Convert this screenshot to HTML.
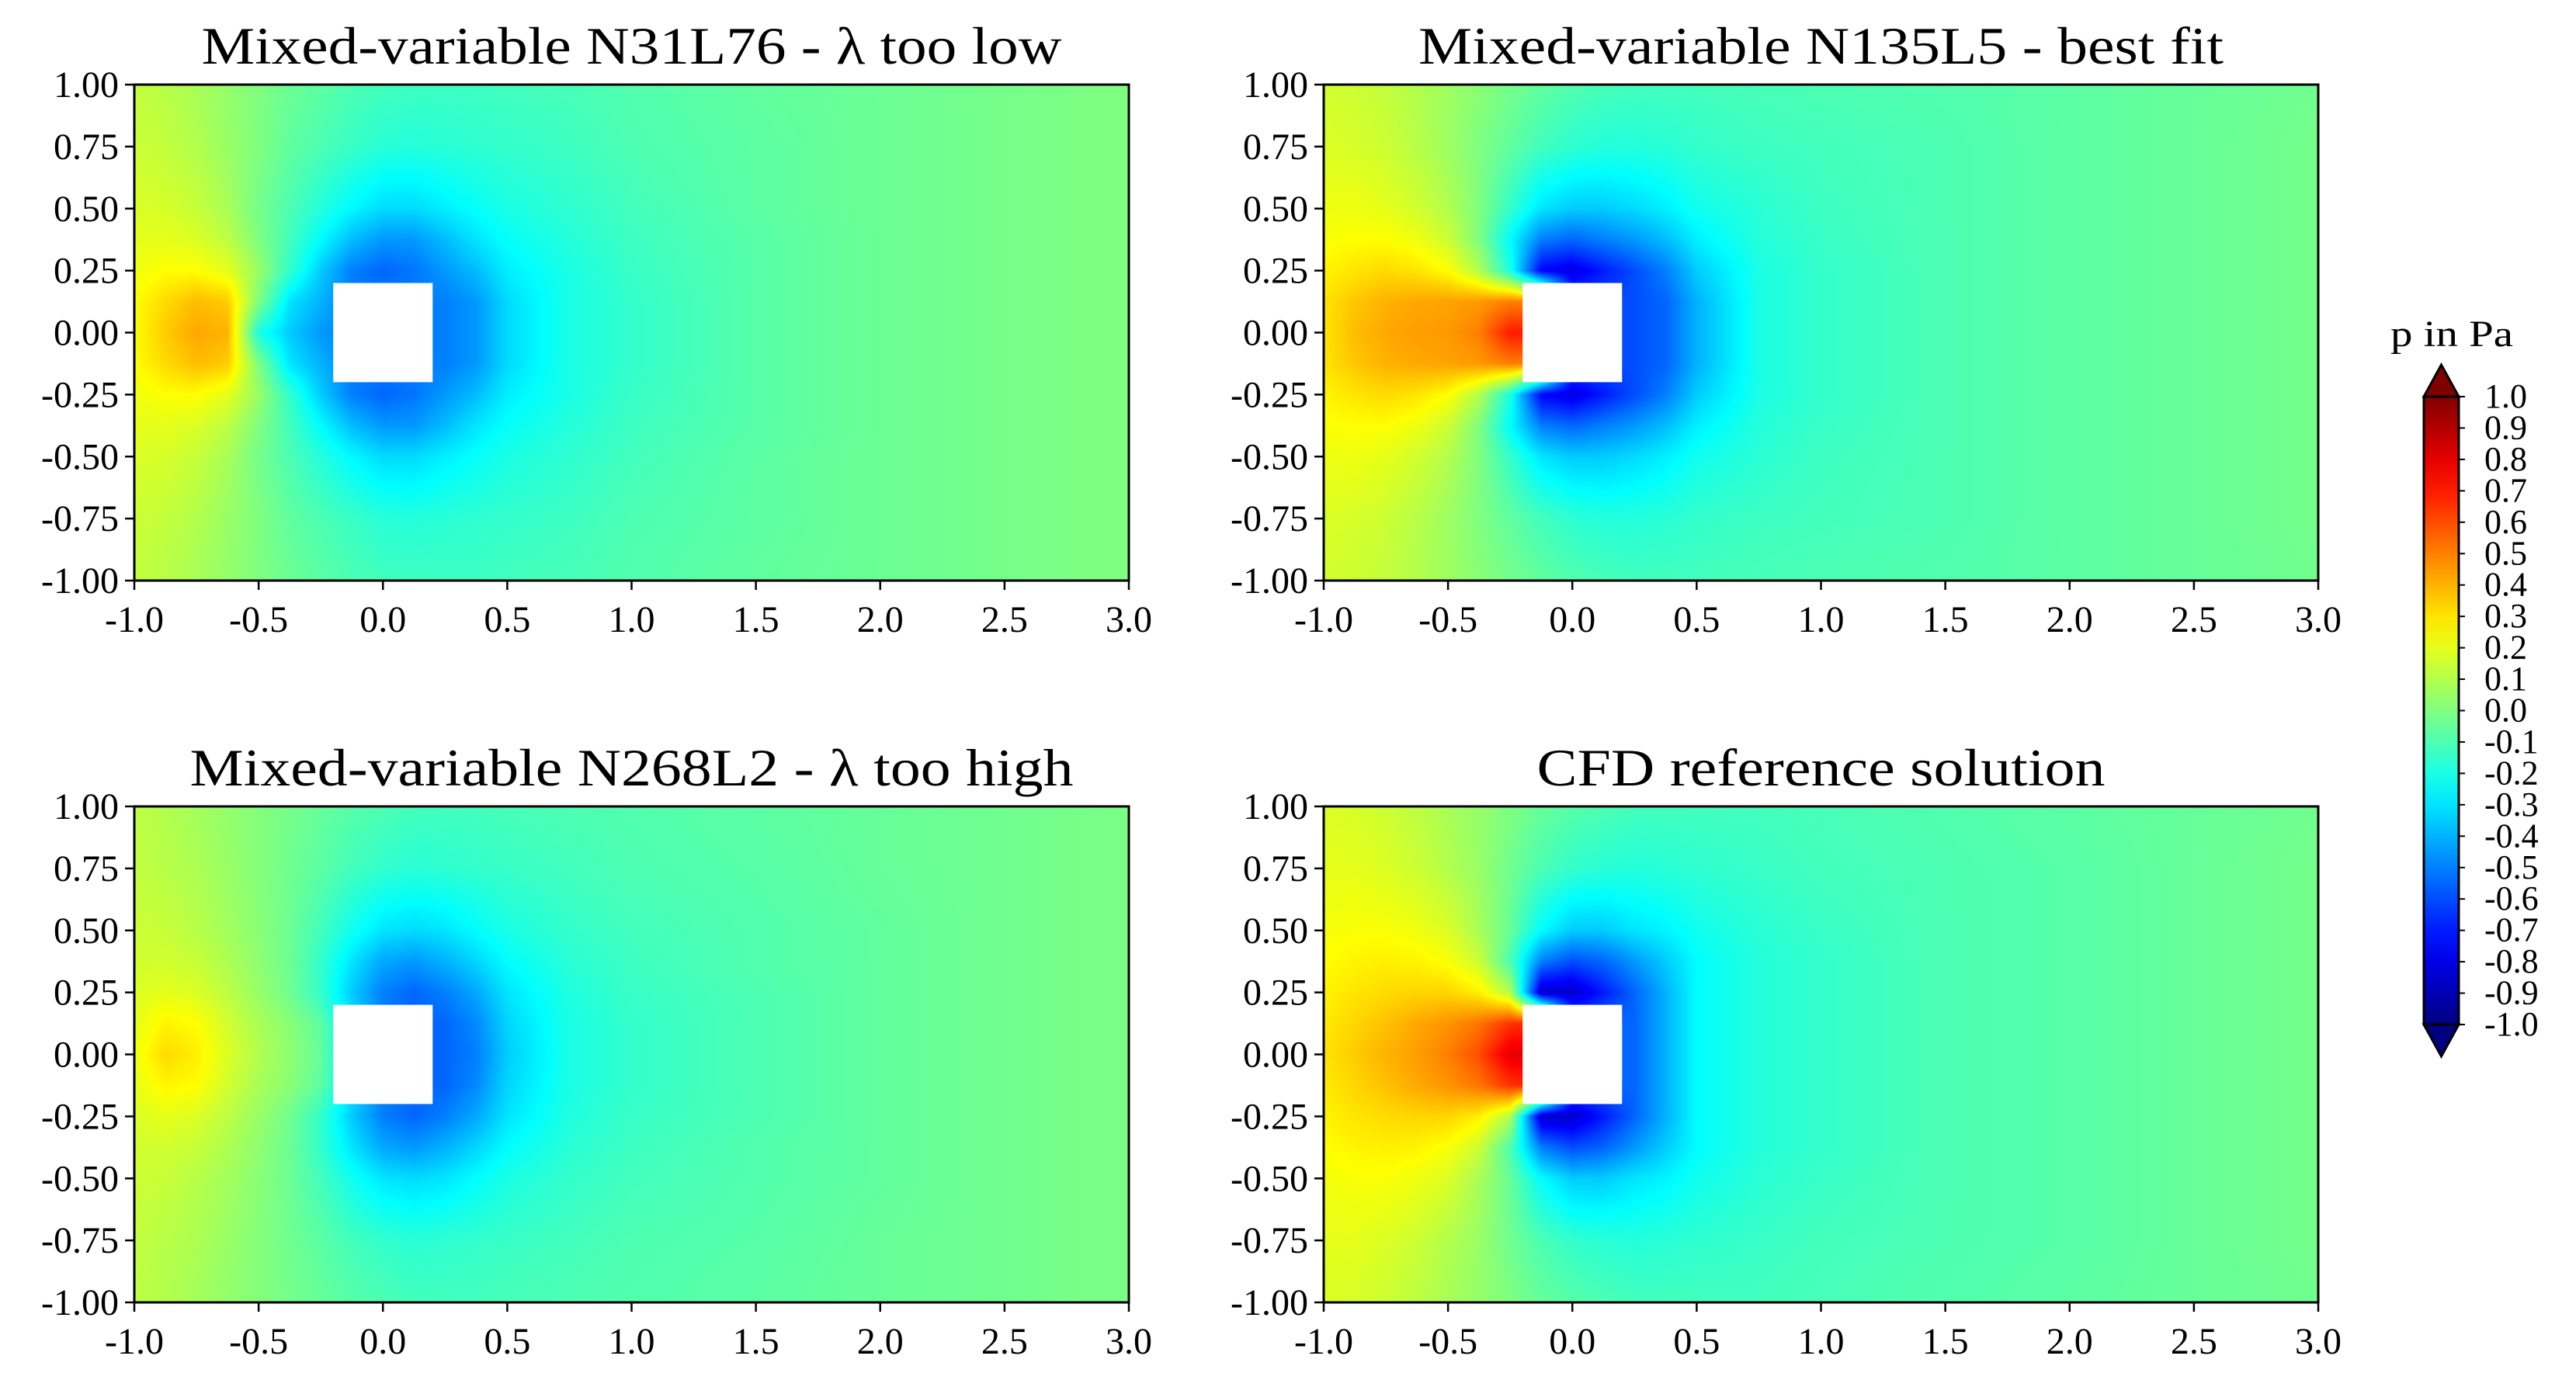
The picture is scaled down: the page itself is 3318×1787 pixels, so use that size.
<!DOCTYPE html>
<html><head><meta charset="utf-8"><style>
html,body{margin:0;padding:0;background:#fff;}
#root{position:relative;width:3318px;height:1787px;overflow:hidden;background:#fff;}
canvas{position:absolute;}
svg{position:absolute;left:0;top:0;}
text{font-family:"Liberation Serif",serif;fill:#000;}
</style></head><body>
<div id="root">
<canvas id="c0" width="1281" height="639" style="left:173px;top:109px"></canvas>
<canvas id="c1" width="1281" height="639" style="left:1705px;top:109px"></canvas>
<canvas id="c2" width="1281" height="639" style="left:173px;top:1039px"></canvas>
<canvas id="c3" width="1281" height="639" style="left:1705px;top:1039px"></canvas>
<svg id="ov" width="3318" height="1787"></svg>
</div>
<script>
const xCoords=[-1,-0.875,-0.75,-0.625,-0.5,-0.375,-0.25,-0.125,0,0.125,0.25,0.375,0.5,0.75,1,1.5,2,2.5,3];
const yCoordsHalf=[0,0.125,0.25,0.375,0.5,0.75,1];
const xTicks=["-1.0","-0.5","0.0","0.5","1.0","1.5","2.0","2.5","3.0"];
const xTickVals=[-1,-0.5,0,0.5,1,1.5,2,2.5,3];
const yTicks=["1.00","0.75","0.50","0.25","0.00","-0.25","-0.50","-0.75","-1.00"];
const yTickVals=[1,0.75,0.5,0.25,0,-0.25,-0.5,-0.75,-1];
const cbTicks=["1.0","0.9","0.8","0.7","0.6","0.5","0.4","0.3","0.2","0.1","0.0","-0.1","-0.2","-0.3","-0.4","-0.5","-0.6","-0.7","-0.8","-0.9","-1.0"];
const cbTickVals=[1,0.9,0.8,0.7,0.6,0.5,0.4,0.3,0.2,0.1,0,-0.1,-0.2,-0.3,-0.4,-0.5,-0.6,-0.7,-0.8,-0.9,-1];
const titles=["Mixed-variable N31L76 - λ too low","Mixed-variable N135L5 - best fit","Mixed-variable N268L2 - λ too high","CFD reference solution"];
const titleWidths=[1108,1037,1138,732];
const fieldLow=[
[0.25,0.35,0.42,0.4,-0.2,-0.35,-0.45,-0.5,-0.5,-0.5,-0.5,-0.45,-0.32,-0.2,-0.15,-0.08,-0.04,-0.02,0],
[0.25,0.32,0.38,0.35,0.0,-0.3,-0.4,-0.5,-0.5,-0.5,-0.5,-0.45,-0.32,-0.2,-0.15,-0.08,-0.04,-0.02,0],
[0.22,0.25,0.25,0.2,0.05,-0.15,-0.35,-0.5,-0.55,-0.52,-0.45,-0.38,-0.28,-0.2,-0.14,-0.08,-0.04,-0.02,0],
[0.2,0.2,0.18,0.12,0.0,-0.12,-0.25,-0.38,-0.45,-0.45,-0.38,-0.3,-0.24,-0.18,-0.13,-0.08,-0.04,-0.02,0],
[0.18,0.17,0.14,0.08,-0.02,-0.1,-0.18,-0.26,-0.32,-0.32,-0.28,-0.24,-0.2,-0.16,-0.12,-0.07,-0.04,-0.02,0],
[0.15,0.13,0.1,0.05,0,-0.06,-0.1,-0.14,-0.17,-0.18,-0.17,-0.16,-0.15,-0.13,-0.1,-0.07,-0.04,-0.02,0],
[0.13,0.11,0.08,0.04,0,-0.04,-0.07,-0.1,-0.12,-0.13,-0.13,-0.13,-0.12,-0.11,-0.09,-0.06,-0.04,-0.02,0]];
const fieldBest=[
[0.3,0.38,0.42,0.44,0.45,0.5,0.7,0.7,-0.6,-0.6,-0.6,-0.55,-0.4,-0.2,-0.15,-0.1,-0.07,-0.05,-0.02],
[0.3,0.36,0.4,0.42,0.43,0.45,0.5,0.5,-0.6,-0.6,-0.6,-0.55,-0.4,-0.2,-0.15,-0.1,-0.07,-0.05,-0.02],
[0.27,0.3,0.32,0.3,0.25,0.1,-0.2,-0.75,-0.8,-0.7,-0.6,-0.5,-0.35,-0.2,-0.15,-0.1,-0.07,-0.05,-0.02],
[0.24,0.25,0.25,0.22,0.15,0.0,-0.25,-0.5,-0.55,-0.5,-0.45,-0.38,-0.28,-0.18,-0.14,-0.1,-0.07,-0.05,-0.02],
[0.22,0.22,0.2,0.16,0.1,0,-0.15,-0.3,-0.35,-0.35,-0.32,-0.28,-0.22,-0.17,-0.13,-0.1,-0.07,-0.05,-0.02],
[0.18,0.17,0.15,0.11,0.06,0.0,-0.06,-0.12,-0.16,-0.18,-0.18,-0.17,-0.15,-0.13,-0.12,-0.1,-0.07,-0.05,-0.02],
[0.16,0.15,0.13,0.1,0.06,0.02,-0.02,-0.06,-0.09,-0.11,-0.12,-0.12,-0.12,-0.11,-0.1,-0.09,-0.07,-0.05,-0.03]];
const fieldHigh=[
[0.22,0.32,0.28,0.18,0.1,0.03,-0.05,-0.3,-0.5,-0.55,-0.55,-0.5,-0.35,-0.2,-0.15,-0.1,-0.06,-0.03,-0.01],
[0.2,0.27,0.25,0.16,0.08,0.02,-0.07,-0.3,-0.5,-0.55,-0.55,-0.48,-0.33,-0.2,-0.15,-0.1,-0.06,-0.03,-0.01],
[0.18,0.2,0.18,0.12,0.05,-0.03,-0.15,-0.35,-0.5,-0.55,-0.5,-0.42,-0.3,-0.19,-0.14,-0.1,-0.06,-0.03,-0.01],
[0.16,0.16,0.14,0.09,0.03,-0.04,-0.15,-0.3,-0.42,-0.45,-0.4,-0.33,-0.25,-0.17,-0.13,-0.09,-0.06,-0.03,-0.01],
[0.15,0.14,0.11,0.07,0.02,-0.04,-0.12,-0.22,-0.3,-0.32,-0.3,-0.25,-0.2,-0.15,-0.12,-0.09,-0.06,-0.03,-0.01],
[0.13,0.11,0.09,0.05,0.01,-0.03,-0.07,-0.12,-0.15,-0.17,-0.16,-0.15,-0.14,-0.12,-0.1,-0.08,-0.05,-0.03,-0.01],
[0.12,0.1,0.07,0.04,0.01,-0.02,-0.05,-0.08,-0.1,-0.12,-0.12,-0.12,-0.11,-0.1,-0.09,-0.07,-0.05,-0.03,-0.01]];
const fieldCFD=[
[0.3,0.35,0.4,0.44,0.5,0.6,0.8,0.8,-0.55,-0.55,-0.55,-0.4,-0.25,-0.18,-0.15,-0.1,-0.08,-0.05,-0.02],
[0.29,0.33,0.37,0.42,0.46,0.52,0.65,0.7,-0.55,-0.55,-0.55,-0.4,-0.25,-0.18,-0.15,-0.1,-0.08,-0.05,-0.02],
[0.27,0.3,0.32,0.33,0.33,0.28,0.1,-0.85,-0.85,-0.7,-0.55,-0.4,-0.25,-0.18,-0.15,-0.1,-0.08,-0.05,-0.02],
[0.25,0.27,0.28,0.27,0.24,0.15,-0.1,-0.5,-0.6,-0.55,-0.45,-0.35,-0.25,-0.18,-0.15,-0.1,-0.08,-0.05,-0.02],
[0.23,0.24,0.24,0.22,0.18,0.08,-0.05,-0.25,-0.35,-0.35,-0.3,-0.27,-0.22,-0.17,-0.14,-0.1,-0.08,-0.05,-0.02],
[0.2,0.2,0.18,0.15,0.1,0.05,-0.03,-0.1,-0.15,-0.17,-0.18,-0.17,-0.16,-0.14,-0.12,-0.1,-0.08,-0.05,-0.02],
[0.18,0.17,0.15,0.12,0.08,0.04,0,-0.05,-0.08,-0.1,-0.12,-0.12,-0.12,-0.12,-0.11,-0.09,-0.07,-0.05,-0.03]];
const fields=[fieldLow,fieldBest,fieldHigh,fieldCFD];
const panelNames=["n31l76","n135l5","n268l2","cfd"];

const panels=[{x:173,y:109},{x:1705,y:109},{x:173,y:1039},{x:1705,y:1039}];
const PW=1281,PH=639;
function jet(v){let t=Math.max(0,Math.min(1,(v+1)/2));
 const f=(a)=>Math.max(0,Math.min(1,1.5-Math.abs(4*t-a)));
 return [f(3)*255,f(2)*255,f(1)*255];}
function locate(arr,v){let i=0;while(i<arr.length-2&&v>arr[i+1])i++;const t=(v-arr[i])/(arr[i+1]-arr[i]);return [i,Math.max(0,Math.min(1,t))];}
fields.forEach((F,k)=>{
 const cv=document.getElementById('c'+k),ctx=cv.getContext('2d');
 const img=ctx.createImageData(PW,PH);
 const xi=[];for(let px=0;px<PW;px++)xi.push(locate(xCoords,-1+4*(px+0.5)/PW));
 for(let py=0;py<PH;py++){
  const y=1-2*(py+0.5)/PH;const [j,ty]=locate(yCoordsHalf,Math.abs(y));
  const r0=F[j],r1=F[j+1];
  for(let px=0;px<PW;px++){
   const [i,tx]=xi[px];
   const a=r0[i]*(1-tx)+r0[i+1]*tx,b=r1[i]*(1-tx)+r1[i+1]*tx;
   const c=jet(a*(1-ty)+b*ty);const o=(py*PW+px)*4;
   img.data[o]=c[0];img.data[o+1]=c[1];img.data[o+2]=c[2];img.data[o+3]=255;}}
 ctx.putImageData(img,0,0);
});
const NS='http://www.w3.org/2000/svg',ov=document.getElementById('ov');
function el(tag,attrs,txt){const e=document.createElementNS(NS,tag);for(const k in attrs)e.setAttribute(k,attrs[k]);if(txt!==undefined)e.textContent=txt;ov.appendChild(e);return e;}
panels.forEach((p,k)=>{
 const sx=v=>p.x+(v+1)/4*PW, sy=v=>p.y+(1-v)/2*PH;
 const sq=el('rect',{x:sx(-0.2),y:sy(0.2),width:sx(0.2)-sx(-0.2),height:sy(-0.2)-sy(0.2),fill:'#fff'});
 
 
 const fr=el('rect',{x:p.x,y:p.y,width:PW,height:PH,fill:'none',stroke:'#000','stroke-width':3});
 
 
 const t=el('text',{x:p.x+PW/2,y:p.y-27,'font-size':68,'text-anchor':'middle',textLength:titleWidths[k],lengthAdjust:'spacingAndGlyphs'},titles[k]);
 
 
 xTickVals.forEach((v,i)=>{el('line',{x1:sx(v),x2:sx(v),y1:p.y+PH,y2:p.y+PH+12,stroke:'#000','stroke-width':2.5});
  const l=el('text',{x:sx(v),y:p.y+PH+66,'font-size':48,'text-anchor':'middle'},xTicks[i]);
  
  });
 yTickVals.forEach((v,i)=>{el('line',{x1:p.x-12,x2:p.x,y1:sy(v),y2:sy(v),stroke:'#000','stroke-width':2.5});
  const l=el('text',{x:p.x-20,y:sy(v)+16,'font-size':48,'text-anchor':'end'},yTicks[i]);
  
  });
});
const cbL=3122,cbR=3167,cbTop=511,cbBot=1320,tipT=470,tipB=1361;
const cy=v=>cbBot-(v+1)/2*(cbBot-cbTop);
const defs=el('defs',{});const g=document.createElementNS(NS,'linearGradient');
g.setAttribute('id','jetg');g.setAttribute('x1',0);g.setAttribute('y1',1);g.setAttribute('x2',0);g.setAttribute('y2',0);defs.appendChild(g);
for(let i=0;i<=20;i++){const c=jet(-1+i/10);const s=document.createElementNS(NS,'stop');s.setAttribute('offset',i/20);s.setAttribute('stop-color',`rgb(${c.map(Math.round).join(',')})`);g.appendChild(s);}
const topC=jet(1),botC=jet(-1);
const tu=el('polygon',{points:`${cbL},${cbTop} ${(cbL+cbR)/2},${tipT} ${cbR},${cbTop}`,fill:`rgb(${topC.map(Math.round).join(',')})`,stroke:'#000','stroke-width':3});


const tb=el('polygon',{points:`${cbL},${cbBot} ${(cbL+cbR)/2},${tipB} ${cbR},${cbBot}`,fill:`rgb(${botC.map(Math.round).join(',')})`,stroke:'#000','stroke-width':3});


const cb=el('rect',{x:cbL,y:cbTop,width:cbR-cbL,height:cbBot-cbTop,fill:'url(#jetg)',stroke:'#000','stroke-width':3});


cbTickVals.forEach((v,i)=>{el('line',{x1:cbR,x2:cbR+8,y1:cy(v),y2:cy(v),stroke:'#000','stroke-width':2});
 const l=el('text',{x:3200,y:cy(v)+14,'font-size':44},cbTicks[i]);
 
 });
const ct=el('text',{x:3158,y:446,'font-size':48,'text-anchor':'middle',textLength:158,lengthAdjust:'spacingAndGlyphs'},'p in Pa');


</script>
</body></html>
